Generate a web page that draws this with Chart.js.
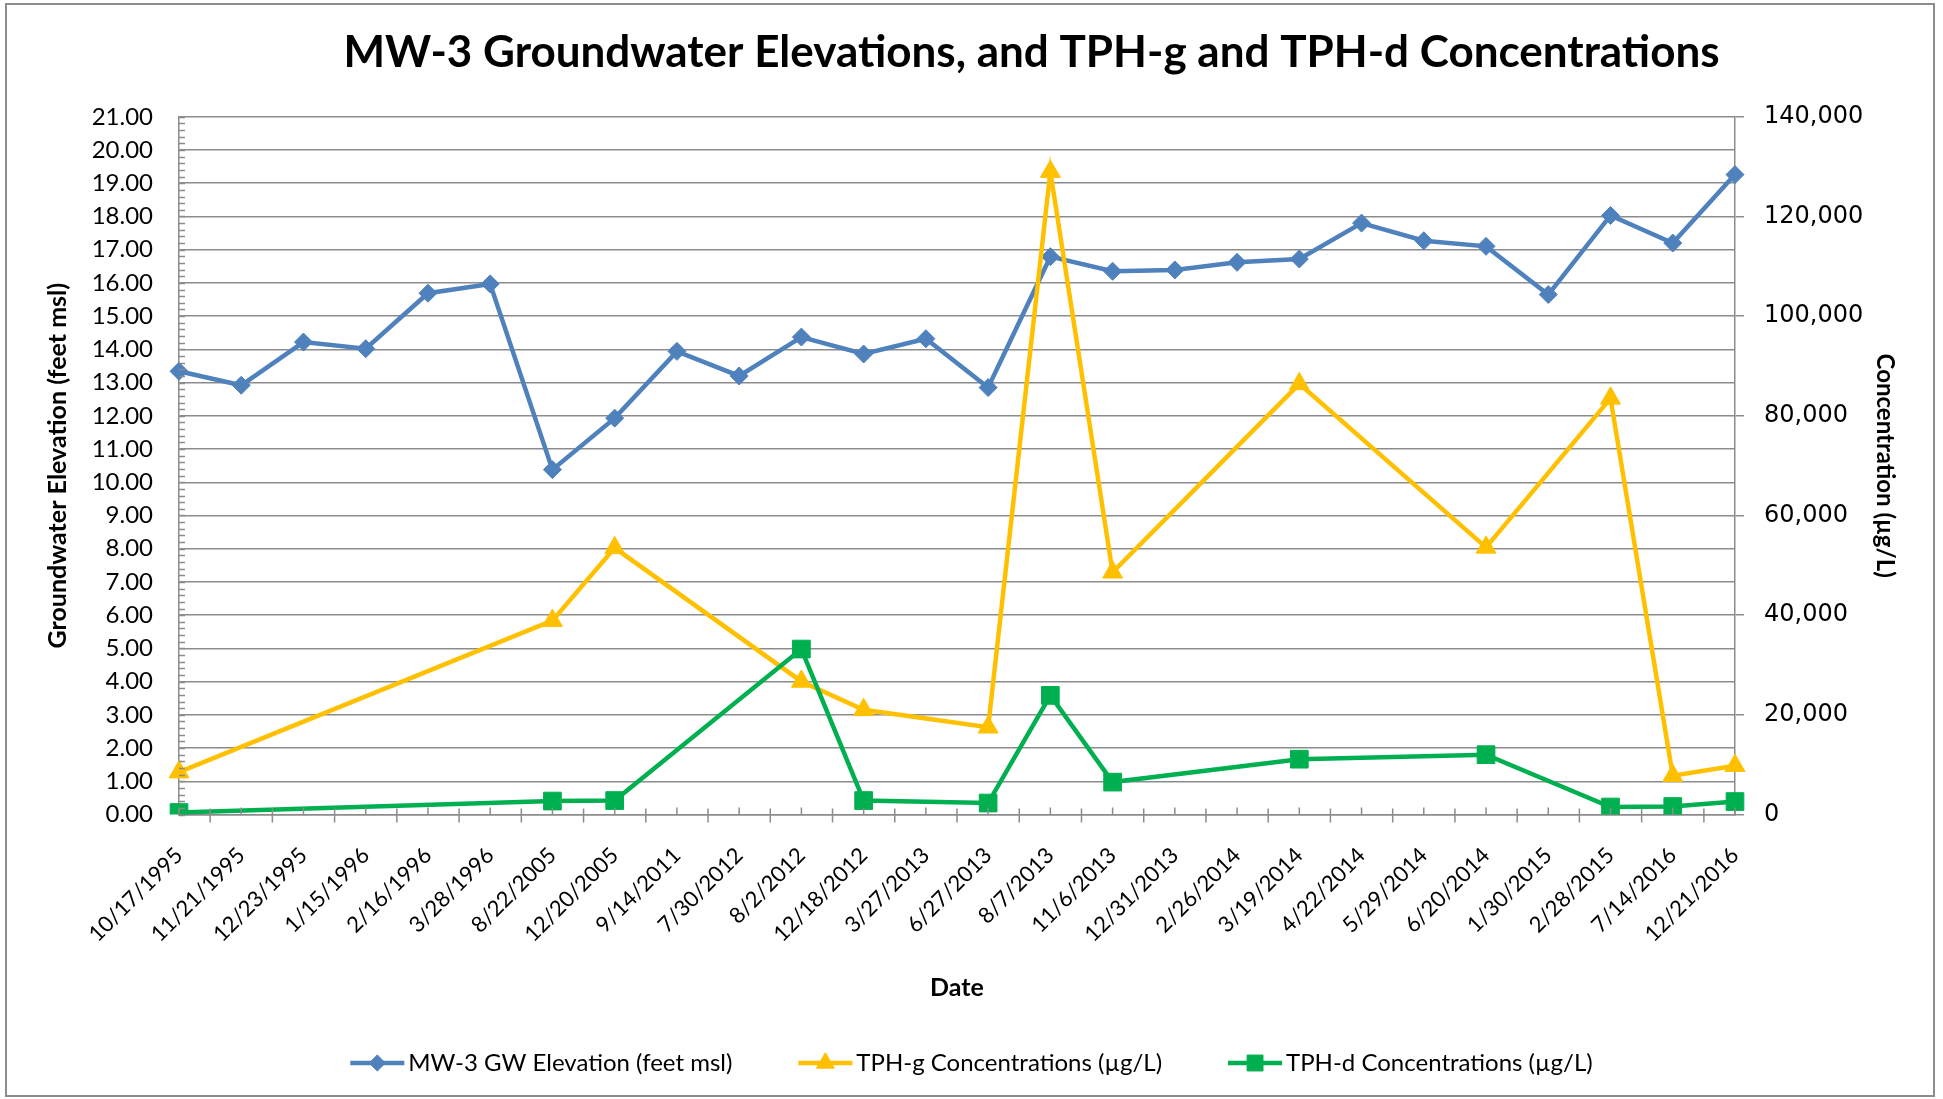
<!DOCTYPE html>
<html>
<head>
<meta charset="utf-8">
<script src="https://cdn.jsdelivr.net/npm/chart.js@4.4.1/dist/chart.umd.min.js"></script>
<style>
  html, body { margin: 0; padding: 0; background: #fff; }
  #wrap { position: relative; width: 1943px; height: 1099px; }
  #frame { position: absolute; left: 5px; top: 3px; width: 1926px; height: 1090px; border: 2px solid #8c8c8c; pointer-events: none; }
</style>
</head>
<body>
<div id="wrap">
  <canvas id="chart" width="1943" height="1099"></canvas>
  <div id="frame"></div>
</div>
<script>
//sample dates (category axis)
const sampleDates = [
  "10/17/1995", "11/21/1995", "12/23/1995", "1/15/1996", "2/16/1996", "3/28/1996",
  "8/22/2005", "12/20/2005", "9/14/2011", "7/30/2012", "8/2/2012", "12/18/2012",
  "3/27/2013", "6/27/2013", "8/7/2013", "11/6/2013", "12/31/2013", "2/26/2014",
  "3/19/2014", "4/22/2014", "5/29/2014", "6/20/2014", "1/30/2015", "2/28/2015",
  "7/14/2016", "12/21/2016",
];
//groundwater elevation, feet msl (left axis)
const gwElevation = [
  13.34, 12.92, 14.22, 14.02, 15.69, 15.97, 10.38, 11.93, 13.94, 13.2, 14.37, 13.86,
  14.32, 12.85, 16.79, 16.35, 16.39, 16.62, 16.72, 17.8, 17.27, 17.1, 15.65, 18.03,
  17.2, 19.26,
];
//TPH-g concentrations, ug/L (right axis), null = not sampled
const tphG = [
  8500, null, null, null, null, null, 38900, 53500, null, null, 26700, 21000,
  null, 17500, 129000, 48600, null, null, 86400, null, null, 53600, null, 83500,
  7800, 9800,
];
//TPH-d concentrations, ug/L (right axis)
const tphD = [
  400, null, null, null, null, null, 2700, 2800, null, null, 33200, 2800,
  null, 2300, 23900, 6500, null, null, 11100, null, null, 12000, null, 1500,
  1600, 2600,
];
const seriesNames = [
  "MW-3 GW Elevation (feet msl)",
  "TPH-g Concentrations (µg/L)",
  "TPH-d Concentrations (µg/L)",
];
const titleText = "MW-3 Groundwater Elevations, and TPH-g and TPH-d Concentrations";

const gray = "#8c8c8c";
const blue = "#4f81bd";
const gold = "#ffc000";
const green = "#00b050";

//minor ticks on left and bottom axes, like the Excel original
const minorTicks = {
  id: "minorTicks",
  afterDatasetsDraw(chart) {
    const ctx = chart.ctx;
    const x = chart.scales.x;
    const y = chart.scales.y;
    const area = chart.chartArea;
    ctx.save();
    ctx.strokeStyle = gray;
    ctx.lineWidth = 1.5;
    ctx.beginPath();
    for (let v = 0; v <= 21; v += 0.2) {
      const py = Math.round(y.getPixelForValue(v)) + 0.5;
      ctx.moveTo(area.left, py);
      ctx.lineTo(area.left + 6, py);
    }
    for (let i = 0; i < sampleDates.length; i++) {
      const px = x.getPixelForValue(i);
      ctx.moveTo(px, area.bottom - 7);
      ctx.lineTo(px, area.bottom);
      if (i < sampleDates.length - 1) {
        const mx = (px + x.getPixelForValue(i + 1)) / 2;
        ctx.moveTo(mx, area.bottom - 6);
        ctx.lineTo(mx, area.bottom + 8);
      }
    }
    ctx.stroke();
    ctx.restore();
  },
};

//legend entries drawn as line + marker, Excel style
const legendLineLen = 54;
const legendMarkers = {
  id: "legendMarkers",
  afterDraw(chart) {
    const legend = chart.legend;
    if (!legend || !legend.legendHitBoxes) return;
    const ctx = chart.ctx;
    legend.legendHitBoxes.forEach((box, i) => {
      const ds = chart.data.datasets[legend.legendItems[i].datasetIndex];
      const cy = box.top + box.height / 2;
      ctx.save();
      ctx.strokeStyle = ds.borderColor;
      ctx.fillStyle = ds.borderColor;
      ctx.lineWidth = 4.5;
      ctx.beginPath();
      ctx.moveTo(box.left, cy);
      ctx.lineTo(box.left + legendLineLen, cy);
      ctx.stroke();
      ctx.lineWidth = 1;
      Chart.helpers.drawPoint(ctx, { pointStyle: ds.pointStyle, radius: ds.pointRadius * 0.9, rotation: 0, borderWidth: 1 }, box.left + legendLineLen / 2, cy);
      ctx.restore();
    });
  },
};

//shift the title a little to the right, where the original has it
const titleShift = {
  id: "titleShift",
  afterLayout(chart) {
    if (chart.titleBlock) {
      chart.titleBlock.left += 60;
      chart.titleBlock.right += 60;
    }
  },
};

const tickFont = { family: "Lato", size: 24 };

new Chart(document.getElementById("chart"), {
  type: "line",
  plugins: [minorTicks, legendMarkers, titleShift],
  data: {
    labels: sampleDates,
    datasets: [
      {
        label: seriesNames[0],
        data: gwElevation,
        yAxisID: "y",
        borderColor: blue,
        backgroundColor: blue,
        borderWidth: 4.5,
        pointStyle: "rectRot",
        pointRadius: 9,
        pointBorderWidth: 1,
        order: 3,
      },
      {
        label: seriesNames[1],
        data: tphG,
        yAxisID: "y2",
        borderColor: gold,
        backgroundColor: gold,
        borderWidth: 4.5,
        pointStyle: "triangle",
        pointRadius: 11.5,
        pointBorderWidth: 1,
        spanGaps: true,
        order: 2,
      },
      {
        label: seriesNames[2],
        data: tphD,
        yAxisID: "y2",
        borderColor: green,
        backgroundColor: green,
        borderWidth: 4.5,
        pointStyle: "rect",
        pointRadius: 12.5,
        pointBorderWidth: 1,
        spanGaps: true,
        order: 1,
      },
    ],
  },
  options: {
    responsive: false,
    animation: false,
    layout: { padding: { left: 0, right: 0, top: 0, bottom: 14 } },
    plugins: {
      tooltip: { enabled: false },
      title: {
        display: true,
        text: titleText,
        color: "#000",
        font: { family: "Lato", size: 44, weight: "bold" },
        padding: { top: 26, bottom: 38 },
      },
      legend: {
        position: "bottom",
        labels: {
          color: "#000",
          font: { family: "Lato", size: 24 },
          boxWidth: 46,
          boxHeight: 14,
          padding: 66,
          generateLabels: (chart) =>
            chart.data.datasets.map((ds, i) => ({
              text: ds.label,
              datasetIndex: i,
              fillStyle: "rgba(0,0,0,0)",
              strokeStyle: "rgba(0,0,0,0)",
              lineWidth: 0,
              fontColor: "#000",
            })),
        },
      },
    },
    scales: {
      x: {
        type: "category",
        offset: false,
        grid: { display: false, drawTicks: false },
        border: { display: true, color: gray, width: 1.5 },
        ticks: {
          autoSkip: false,
          minRotation: 45,
          maxRotation: 45,
          padding: 28,
          color: "#000",
          font: { family: "Lato", size: 22 },
        },
        title: {
          display: true,
          text: "Date",
          color: "#000",
          font: { family: "Lato", size: 25, weight: "bold" },
          padding: { top: 0, bottom: -18 },
        },
        afterFit: (s) => { s.height = 170.5; },
      },
      y: {
        position: "left",
        min: 0,
        max: 21,
        ticks: {
          stepSize: 1,
          padding: 26,
          color: "#000",
          font: tickFont,
          callback: (v) => v.toFixed(2),
        },
        grid: { color: gray, lineWidth: 1.5, drawTicks: false },
        border: { display: true, color: gray, width: 1.5 },
        title: {
          display: true,
          text: "Groundwater Elevation (feet msl)",
          color: "#000",
          font: { family: "Lato", size: 25, weight: "bold" },
          padding: { top: 43, bottom: 0 },
        },
        afterFit: (s) => { s.width = 179; },
      },
      y2: {
        position: "right",
        min: 0,
        max: 140000,
        ticks: {
          stepSize: 20000,
          padding: 20,
          color: "#000",
          font: { family: "DejaVu Sans", size: 24 },
          callback: (v) => v.toLocaleString("en-US"),
        },
        grid: { drawOnChartArea: false, drawTicks: true, tickLength: 9, color: gray, lineWidth: 1.5 },
        border: { display: true, color: gray, width: 1.5 },
        title: {
          display: true,
          text: "Concentration (µg/L)",
          color: "#000",
          font: { family: "Lato", size: 24, weight: "bold" },
          padding: { top: 44, bottom: 0 },
        },
        afterFit: (s) => { s.width = 208; },
      },
    },
  },
});
</script>
</body>
</html>
